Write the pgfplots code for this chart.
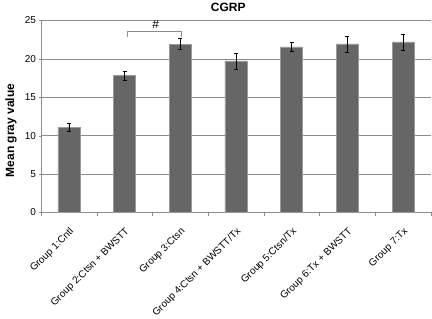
\documentclass[border=0pt]{standalone}
\usepackage{pgfplots}
\pgfplotsset{compat=1.18}
\usepackage{fontspec}
\setmainfont{Liberation Sans}
\setsansfont{Liberation Sans}
\definecolor{barfill}{HTML}{666666}
\definecolor{baredge}{HTML}{9A9A9A}
\definecolor{gridc}{HTML}{8C8C8C}
\begin{document}
\begin{tikzpicture}
\begin{axis}[
  scale only axis,
  width=390pt, height=192pt,
  xmin=-0.5, xmax=6.5,
  ymin=0, ymax=25,
  ytick={0,5,...,25},
  xtick={0,...,6},
  xticklabels={Group 1:Cntl, Group 2:Ctsn + BWSTT, Group 3:Ctsn, Group 4:Ctsn + BWSTT/Tx, Group 5:Ctsn/Tx, Group 6:Tx + BWSTT, Group 7:Tx},
  minor xtick={-0.5,0.5,...,6.5},
  major x tick style={draw=none},
  minor x tick style={gridc},
  minor tick length=4pt,
  major tick length=3pt,
  tick align=outside,
  ytick style={gridc},
  axis x line=bottom, axis y line=left,
  axis line style={-, gridc},
  ymajorgrids, grid style={gridc, line width=0.6pt},
  tick label style={font=\fontsize{10}{12}\selectfont, black},
  /pgf/number format/assume math mode=true,
  xticklabel style={yshift=-11pt, rotate=45, anchor=north east, inner sep=0pt},
  ylabel={Mean gray value},
  ylabel style={font=\bfseries\fontsize{12}{14}\selectfont, at={(axis description cs:-0.077,0.427)}, anchor=center, rotate=0},
  title={CGRP},
  title style={font=\bfseries\fontsize{12}{14}\selectfont, at={(axis description cs:0.48,1.036)}, anchor=center},
  ybar, bar width=22pt,
]
\addplot[fill=barfill, draw=baredge, line width=0.6pt,
  error bars/.cd, y dir=both, y explicit,
  error bar style={black, line width=0.5pt},
  error mark options={rotate=90, mark size=2pt, black, line width=0.5pt}]
  coordinates {
  (0,11.07) +- (0,0.52)
  (1,17.80) +- (0,0.63)
  (2,21.92) +- (0,0.72)
  (3,19.75) +- (0,1.04)
  (4,21.57) +- (0,0.55)
  (5,21.96) +- (0,1.04)
  (6,22.22) +- (0,1.04)
  };
\draw[gridc, line width=0.6pt] (axis cs:1.044,22.9) -- (axis cs:1.044,23.57) -- (axis cs:2.013,23.57) -- (axis cs:2.013,22.9);
\node[font=\fontsize{12}{14}\selectfont, inner sep=0pt] at (axis cs:1.56,24.5) {\#};
\end{axis}
\path ([shift={(-41pt,-106pt)}]current axis.south west) rectangle ([shift={(1pt,17pt)}]current axis.north east);
\end{tikzpicture}
\end{document}
